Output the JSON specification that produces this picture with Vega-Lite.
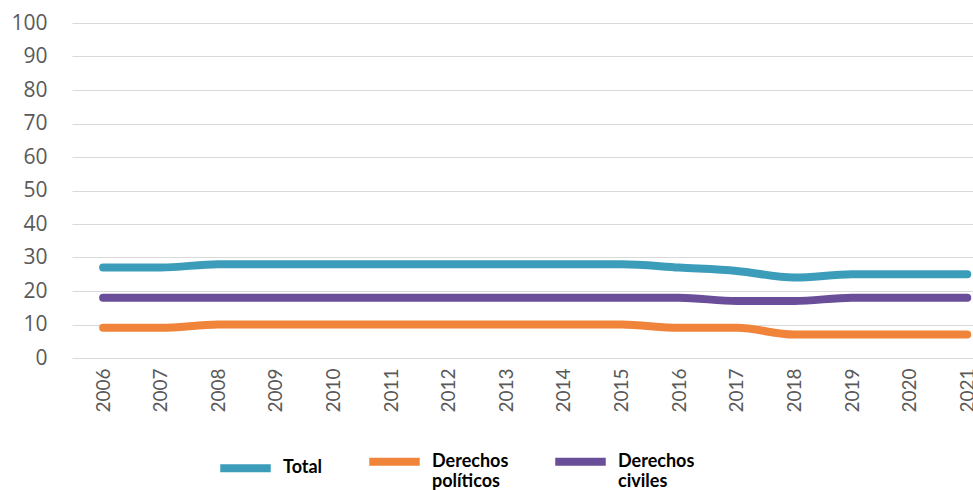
{
  "$schema": "https://vega.github.io/schema/vega-lite/v6.json",
  "autosize": {"type": "none"},
  "padding": {"left": 72, "top": 23, "right": 0, "bottom": 132},
  "width": 901,
  "height": 335,
  "background": "white",
  "data": {"values": [
    {"year": 2006, "serie": "Total", "valor": 27},
    {"year": 2007, "serie": "Total", "valor": 27},
    {"year": 2008, "serie": "Total", "valor": 28},
    {"year": 2009, "serie": "Total", "valor": 28},
    {"year": 2010, "serie": "Total", "valor": 28},
    {"year": 2011, "serie": "Total", "valor": 28},
    {"year": 2012, "serie": "Total", "valor": 28},
    {"year": 2013, "serie": "Total", "valor": 28},
    {"year": 2014, "serie": "Total", "valor": 28},
    {"year": 2015, "serie": "Total", "valor": 28},
    {"year": 2016, "serie": "Total", "valor": 27},
    {"year": 2017, "serie": "Total", "valor": 26},
    {"year": 2018, "serie": "Total", "valor": 24},
    {"year": 2019, "serie": "Total", "valor": 25},
    {"year": 2020, "serie": "Total", "valor": 25},
    {"year": 2021, "serie": "Total", "valor": 25},
    {"year": 2006, "serie": "Derechos políticos", "valor": 9},
    {"year": 2007, "serie": "Derechos políticos", "valor": 9},
    {"year": 2008, "serie": "Derechos políticos", "valor": 10},
    {"year": 2009, "serie": "Derechos políticos", "valor": 10},
    {"year": 2010, "serie": "Derechos políticos", "valor": 10},
    {"year": 2011, "serie": "Derechos políticos", "valor": 10},
    {"year": 2012, "serie": "Derechos políticos", "valor": 10},
    {"year": 2013, "serie": "Derechos políticos", "valor": 10},
    {"year": 2014, "serie": "Derechos políticos", "valor": 10},
    {"year": 2015, "serie": "Derechos políticos", "valor": 10},
    {"year": 2016, "serie": "Derechos políticos", "valor": 9},
    {"year": 2017, "serie": "Derechos políticos", "valor": 9},
    {"year": 2018, "serie": "Derechos políticos", "valor": 7},
    {"year": 2019, "serie": "Derechos políticos", "valor": 7},
    {"year": 2020, "serie": "Derechos políticos", "valor": 7},
    {"year": 2021, "serie": "Derechos políticos", "valor": 7},
    {"year": 2006, "serie": "Derechos civiles", "valor": 18},
    {"year": 2007, "serie": "Derechos civiles", "valor": 18},
    {"year": 2008, "serie": "Derechos civiles", "valor": 18},
    {"year": 2009, "serie": "Derechos civiles", "valor": 18},
    {"year": 2010, "serie": "Derechos civiles", "valor": 18},
    {"year": 2011, "serie": "Derechos civiles", "valor": 18},
    {"year": 2012, "serie": "Derechos civiles", "valor": 18},
    {"year": 2013, "serie": "Derechos civiles", "valor": 18},
    {"year": 2014, "serie": "Derechos civiles", "valor": 18},
    {"year": 2015, "serie": "Derechos civiles", "valor": 18},
    {"year": 2016, "serie": "Derechos civiles", "valor": 18},
    {"year": 2017, "serie": "Derechos civiles", "valor": 17},
    {"year": 2018, "serie": "Derechos civiles", "valor": 17},
    {"year": 2019, "serie": "Derechos civiles", "valor": 18},
    {"year": 2020, "serie": "Derechos civiles", "valor": 18},
    {"year": 2021, "serie": "Derechos civiles", "valor": 18}
  ]},
  "mark": {"type": "line", "strokeWidth": 8, "strokeCap": "round", "strokeJoin": "round", "interpolate": "monotone", "clip": false},
  "encoding": {
    "x": {
      "field": "year", "type": "quantitative",
      "scale": {"domain": [2005.46, 2021.1], "nice": false, "zero": false},
      "axis": {
        "title": null, "values": [2006,2007,2008,2009,2010,2011,2012,2013,2014,2015,2016,2017,2018,2019,2020,2021],
        "format": "d", "labelAngle": -90, "labelAlign": "right", "labelBaseline": "middle",
        "labelPadding": 10, "ticks": false, "domain": false, "grid": false,
        "labelFont": "Lato", "labelFontSize": 19, "labelColor": "#595959", "labelFlush": false, "labelOverlap": false
      }
    },
    "y": {
      "field": "valor", "type": "quantitative",
      "scale": {"domain": [0, 100], "nice": false},
      "axis": {
        "title": null, "values": [0,10,20,30,40,50,60,70,80,90,100],
        "ticks": false, "domain": false, "grid": true, "gridColor": "#d9d9d9", "gridWidth": 1,
        "labelPadding": 25, "labelFont": "Open Sans", "labelFontSize": 21, "labelColor": "#595959"
      }
    },
    "color": {
      "field": "serie", "type": "nominal",
      "scale": {"domain": ["Total", "Derechos políticos", "Derechos civiles"], "range": ["#3c9dba", "#f0843a", "#6b4e99"]},
      "legend": {
        "title": null, "orient": "none", "direction": "horizontal", "legendX": 144, "legendY": 409,
        "padding": 0, "symbolType": "stroke", "symbolSize": 2550, "symbolStrokeWidth": 8,
        "labelOffset": 8, "columnPadding": 30,
        "labelFont": "Lato", "labelFontSize": 18, "labelFontWeight": "bold", "labelColor": "#000000",
        "labelExpr": "split(datum.label, ' ')", "labelLineHeight": 19, "labelBaseline": "middle"
      }
    }
  },
  "config": {"view": {"stroke": null}}
}
